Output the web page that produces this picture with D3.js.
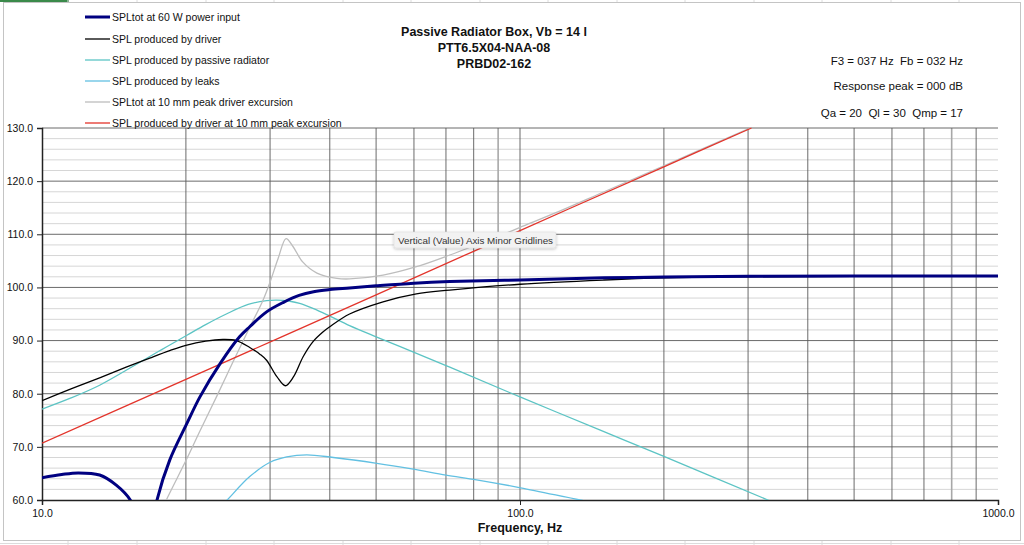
<!DOCTYPE html>
<html><head><meta charset="utf-8">
<script src="https://cdn.jsdelivr.net/npm/d3@7"></script>
<style>
html,body{margin:0;padding:0;background:#fff;}
svg{display:block;font-family:"Liberation Sans",Arial,sans-serif;}
text{white-space:pre;}
</style></head>
<body>
<svg id="c" width="1024" height="545"></svg>
<script>
// ---------- data (frequency in Hz, level in dB) ----------
const xTickLabels = ["10.0", "100.0", "1000.0"];
const xTickValues = [10, 100, 1000];
const yTickValues = [60, 70, 80, 90, 100, 110, 120, 130];

const totFreq = [10, 11, 11.9, 13.2, 14.3, 15.3, 15.9, null, 16.9, 17.4, 18.5, 20.1, 21.4, 23.6, 25.9, 27.2, 29.5, 32, 34.5, 37, 40, 44, 50, 60, 71.3, 100, 150, 200, 300, 500, 1000];
const totSPL  = [64.2, 64.8, 65.1, 64.7, 62.8, 60.0, 56, null, 54, 60, 67.5, 74.4, 79.4, 85.7, 90.7, 92.6, 95.4, 97.2, 98.5, 99.2, 99.6, 99.9, 100.3, 100.8, 101.1, 101.4, 101.8, 101.95, 102.1, 102.15, 102.15];

const drvFreq = [10, 11.5, 13.2, 15, 16.8, 18.5, 20, 22, 23.9, 25.5, 27.2, 28.6, 29.5, 31.0, 32.3, 33.6, 35.2, 36.9, 38.8, 40, 44, 51.7, 60.7, 71.3, 100, 150, 200, 300, 500, 1000];
const drvSPL  = [78.7, 80.9, 83.0, 85.0, 86.7, 88.1, 89.1, 89.9, 90.2, 90.0, 88.7, 87.4, 86.3, 83.2, 81.5, 83.2, 87.0, 89.8, 91.7, 92.6, 95.0, 97.3, 98.8, 99.5, 100.6, 101.4, 101.8, 102.0, 102.1, 102.15];

const prFreq = [10, 11.5, 13.2, 15.6, 17.8, 20.1, 22, 24.3, 27, 29.5, 31, 33, 34.6, 37, 40, 44, 50, 56, 71.3, 100, 146.8, 200, 330, 350];
const prSPL  = [77.1, 79.2, 81.6, 85.3, 88.3, 91.0, 93.0, 95.0, 96.8, 97.5, 97.6, 97.4, 97.0, 96.0, 94.6, 92.8, 90.7, 88.9, 85.0, 79.4, 73.2, 68.2, 60.0, 59.0];

const leakFreq = [23.5, 24.4, 27.2, 30, 32.5, 35.8, 40.7, 50.2, 59.8, 70, 81.1, 100.3, 133.5, 145];
const leakSPL  = [58.5, 60.0, 64.4, 67.1, 68.1, 68.5, 68.0, 66.9, 65.8, 64.7, 63.8, 62.3, 60.0, 59.4];

const xmaxFreq = [17.8, 18.2, 20.1, 21.4, 23.2, 25.1, 27.2, 29.0, 30, 31.2, 32.4, 33.5, 35.1, 37.6, 41.4, 44, 51.7, 60.7, 71.3, 81, 95.3, 100, 120, 150, 200, 305];
const xmaxSPL  = [58.0, 60.0, 67.8, 73.0, 79.5, 86.0, 92.5, 97.6, 101.0, 105.5, 109.2, 107.7, 104.8, 102.7, 101.7, 101.6, 102.3, 103.9, 106.1, 108.0, 110.5, 111.3, 114.2, 118.0, 122.9, 130.1];

const drvXFreq = [10, 20, 50, 100, 200, 305];
const drvXSPL  = [70.7, 82.7, 98.6, 110.7, 122.7, 130.0];

const seriesNames = [
  "SPLtot at 60 W power input",
  "SPL produced by driver",
  "SPL produced by passive radiator",
  "SPL produced by leaks",
  "SPLtot at 10 mm peak driver excursion",
  "SPL produced by driver at 10 mm peak excursion"
];
const seriesColors = ["#000080", "#000000", "#5cc4c4", "#62c0e2", "#bdbdbd", "#e3342b"];
const seriesWidths = [3, 1.3, 1.3, 1.3, 1.3, 1.3];

const titleLines = ["Passive Radiator Box, Vb = 14 l", "PTT6.5X04-NAA-08", "PRBD02-162"];
const infoLines = ["F3 = 037 Hz  Fb = 032 Hz", "Response peak = 000 dB", "Qa = 20  Ql = 30  Qmp = 17"];

// ---------- drawing ----------
const svg = d3.select("#c");
const x = d3.scaleLog().domain([10, 1000]).range([42, 998]);
const y = d3.scaleLinear().domain([60, 130]).range([500, 128]);

// spreadsheet background hints
const bg = svg.append("g");
bg.append("line").attr("x1", 0).attr("x2", 68).attr("y1", 1).attr("y2", 1).attr("stroke", "#3a8a4a").attr("stroke-width", 2);
bg.append("line").attr("x1", 68).attr("x2", 68).attr("y1", 0).attr("y2", 3).attr("stroke", "#3a8a4a").attr("stroke-width", 2);
[68, 137, 206, 274, 343, 411, 480, 548, 617, 685, 754, 822, 891, 959].forEach(cx => {
  bg.append("line").attr("x1", cx).attr("x2", cx).attr("y1", 0).attr("y2", 3).attr("stroke", "#dcdcdc");
  bg.append("line").attr("x1", cx).attr("x2", cx).attr("y1", 541).attr("y2", 545).attr("stroke", "#dcdcdc");
});
bg.append("line").attr("x1", 0).attr("x2", 1024).attr("y1", 543.5).attr("y2", 543.5).attr("stroke", "#dcdcdc");
bg.append("rect").attr("x", 3.5).attr("y", 2.5).attr("width", 1017).attr("height", 538)
  .attr("fill", "#fff").attr("stroke", "#c4c4c4");

// gridlines
const grid = svg.append("g");
d3.range(62, 130, 2).filter(v => v % 10 !== 0).forEach(v => {
  grid.append("line").attr("x1", 42).attr("x2", 998).attr("y1", y(v)).attr("y2", y(v))
    .attr("stroke", "#d6d6d6").attr("stroke-width", 1);
});
x.ticks().filter(f => f !== 10 && f !== 1000).forEach(f => {
  const light = (f === 90 || f === 800);
  grid.append("line").attr("x1", x(f)).attr("x2", x(f)).attr("y1", 128).attr("y2", 500)
    .attr("stroke", light ? "#a8a8a8" : "#5a5a5a").attr("stroke-width", light ? 1.6 : 0.9);
});
yTickValues.filter(v => v !== 60).forEach(v => {
  grid.append("line").attr("x1", 42).attr("x2", 998).attr("y1", y(v)).attr("y2", y(v))
    .attr("stroke", "#5a5a5a").attr("stroke-width", 0.9);
});

// axes
const yAxis = svg.append("g").attr("transform", "translate(42,0)")
  .call(d3.axisLeft(y).tickValues(yTickValues).tickFormat(d3.format(".1f")).tickSize(5).tickPadding(4));
yAxis.select(".domain").attr("stroke", "#222").attr("stroke-width", 1.5);
yAxis.selectAll(".tick line").attr("stroke", "#222");
yAxis.selectAll("text").attr("font-size", "10.5px").attr("fill", "#111").attr("font-family", "Liberation Sans, Arial, sans-serif");

const xAxis = svg.append("g").attr("transform", "translate(0,500)")
  .call(d3.axisBottom(x).tickValues(xTickValues).tickFormat((d, i) => xTickLabels[i]).tickSize(5).tickPadding(5));
xAxis.select(".domain").attr("stroke", "#222").attr("stroke-width", 1.5);
xAxis.selectAll(".tick line").attr("stroke", "#222");
xAxis.selectAll("text").attr("font-size", "10.5px").attr("fill", "#111").attr("font-family", "Liberation Sans, Arial, sans-serif");

svg.append("text").attr("x", 520).attr("y", 532).attr("text-anchor", "middle")
  .attr("font-size", "12.5px").attr("font-weight", "bold").attr("fill", "#111").text("Frequency, Hz");

// curves
svg.append("clipPath").attr("id", "plotclip").append("rect")
  .attr("x", 42).attr("y", 127).attr("width", 957).attr("height", 373);
const plot = svg.append("g").attr("clip-path", "url(#plotclip)");

const series = [
  [totFreq, totSPL], [drvFreq, drvSPL], [prFreq, prSPL], [leakFreq, leakSPL], [xmaxFreq, xmaxSPL], [drvXFreq, drvXSPL]
];
const line = d3.line().defined(d => d[0] !== null).x(d => x(d[0])).y(d => y(d[1])).curve(d3.curveCatmullRom.alpha(0.5));
const drawOrder = [2, 3, 4, 5, 1, 0];
drawOrder.forEach(i => {
  const pts = series[i][0].map((f, k) => [f, series[i][1][k]]);
  plot.append("path").datum(pts).attr("d", line).attr("fill", "none")
    .attr("stroke", seriesColors[i]).attr("stroke-width", seriesWidths[i]).attr("stroke-linejoin", "round");
});

// legend
const leg = svg.append("g");
const legY = [17, 39, 60, 81, 102, 123];
seriesNames.forEach((n, i) => {
  leg.append("line").attr("x1", 85).attr("x2", 110).attr("y1", legY[i]).attr("y2", legY[i])
    .attr("stroke", seriesColors[i]).attr("stroke-width", seriesWidths[i]);
  leg.append("text").attr("x", 112).attr("y", legY[i] + 4).attr("font-size", "10.5px").attr("fill", "#111").text(n);
});

// title
const tY = [36, 52, 68];
titleLines.forEach((t, i) => {
  svg.append("text").attr("x", 494).attr("y", tY[i]).attr("text-anchor", "middle")
    .attr("font-size", "12.5px").attr("font-weight", "bold").attr("fill", "#111").text(t);
});

// info
const iY = [65, 90, 117];
infoLines.forEach((t, i) => {
  svg.append("text").attr("x", 963).attr("y", iY[i]).attr("text-anchor", "end")
    .attr("font-size", "11.5px").attr("fill", "#111").attr("xml:space", "preserve").text(t);
});

// tooltip
const defs = svg.append("defs");
const flt = defs.append("filter").attr("id", "shadow").attr("x", "-10%").attr("y", "-30%").attr("width", "120%").attr("height", "180%");
flt.append("feDropShadow").attr("dx", 0).attr("dy", 1).attr("stdDeviation", 1.5).attr("flood-color", "#000").attr("flood-opacity", 0.25);
const tip = svg.append("g");
tip.append("rect").attr("x", 394).attr("y", 232).attr("width", 162).attr("height", 16).attr("rx", 2)
  .attr("fill", "#f2f2f2").attr("stroke", "#d8d8d8").attr("stroke-width", 0.5).attr("filter", "url(#shadow)");
tip.append("text").attr("x", 398).attr("y", 243.5).attr("font-size", "9.8px").attr("fill", "#333")
  .text("Vertical (Value) Axis Minor Gridlines");
</script>
</body></html>
